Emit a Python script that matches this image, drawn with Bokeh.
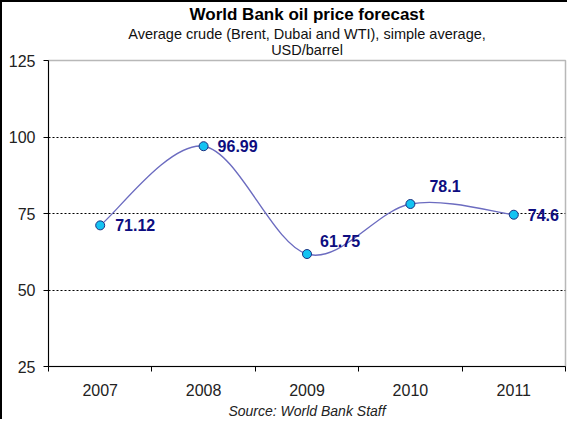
from bokeh.plotting import figure
from bokeh.models import Range1d, FixedTicker, Title, ColumnDataSource
from bokeh.embed import file_html
from bokeh.resources import INLINE
from bokeh.core.properties import value

years = ["2007", "2008", "2009", "2010", "2011"]
prices = [71.12, 96.99, 61.75, 78.1, 74.6]
price_labels = ["71.12", "96.99", "61.75", "78.1", "74.6"]
y_ticks = [25, 50, 75, 100, 125]

FONT = "Liberation Sans"

xs = [i + 0.5 for i in range(len(years))]

p = figure(width=567, height=419, output_backend="svg", toolbar_location=None,
           title=None, x_range=Range1d(0, 5), y_range=Range1d(25, 125),
           min_border_left=46, min_border_right=4, min_border_top=10, min_border_bottom=10)
p.styles = {"border-left": "2px solid black", "border-top": "2px solid black"}
p.background_fill_color = "white"
p.border_fill_color = "white"
p.outline_line_color = "#b8b8b8"
p.outline_line_width = 1.5

# x axis: labels at centres, ticks between categories
p.xaxis.ticker = FixedTicker(ticks=xs, minor_ticks=list(range(len(years) + 1)))
p.xaxis.major_label_overrides = {x: y for x, y in zip(xs, years)}
p.xaxis.major_tick_line_color = None
p.xaxis.minor_tick_in = 0
p.xaxis.minor_tick_out = 5
p.xaxis.minor_tick_line_color = "black"
p.xaxis.axis_line_color = "black"
p.xaxis.major_label_text_font = FONT
p.xaxis.major_label_text_font_size = "16px"
p.xaxis.major_label_text_color = "#222222"
p.xaxis.major_label_standoff = 11

p.yaxis.ticker = FixedTicker(ticks=y_ticks)
p.yaxis.major_tick_in = 0
p.yaxis.major_tick_out = 5
p.yaxis.major_tick_line_color = "black"
p.yaxis.minor_tick_line_color = None
p.yaxis.axis_line_color = "black"
p.yaxis.major_label_text_font = FONT
p.yaxis.major_label_text_font_size = "16px"
p.yaxis.major_label_text_color = "#222222"
p.yaxis.major_label_standoff = 8

p.xgrid.grid_line_color = None
p.ygrid.ticker = FixedTicker(ticks=y_ticks[1:-1])
p.ygrid.grid_line_color = "black"
p.ygrid.grid_line_dash = "2 2"
p.ygrid.grid_line_width = 1

# smooth line (Catmull-Rom style bezier segments through the data points)
n = len(xs)
x0, y0, x1, y1, cx0, cy0, cx1, cy1 = [], [], [], [], [], [], [], []
for i in range(n - 1):
    pa = (xs[max(i - 1, 0)], prices[max(i - 1, 0)])
    pb = (xs[i], prices[i])
    pc = (xs[i + 1], prices[i + 1])
    pd = (xs[min(i + 2, n - 1)], prices[min(i + 2, n - 1)])
    x0.append(pb[0]); y0.append(pb[1]); x1.append(pc[0]); y1.append(pc[1])
    cx0.append(pb[0] + (pc[0] - pa[0]) / 6); cy0.append(pb[1] + (pc[1] - pa[1]) / 6)
    cx1.append(pc[0] - (pd[0] - pb[0]) / 6); cy1.append(pc[1] - (pd[1] - pb[1]) / 6)
p.bezier(x0=x0, y0=y0, x1=x1, y1=y1, cx0=cx0, cy0=cy0, cx1=cx1, cy1=cy1,
         line_color="#6c6cc0", line_width=1.4)

p.scatter(xs, prices, size=9, fill_color="#14c3f2", line_color="#1c3080", line_width=1)

src = ColumnDataSource(dict(x=xs, y=prices, t=price_labels,
                            xo=[15, 14, 13, 19, 14], yo=[0, 0, -13, -18, 0]))
p.text(x="x", y="y", text="t", x_offset="xo", y_offset="yo", source=src,
       text_font=value(FONT), text_font_style="bold", text_font_size="16px",
       text_color="#0d0d80", text_baseline="middle", text_align="left")

# titles stacked above the frame (first added is nearest the frame)
p.add_layout(Title(text="USD/barrel", align="center", vertical_align="top", text_font=FONT,
                   text_font_size="14.5px", text_font_style="normal",
                   text_color="#111111", standoff=1, offset=-6), "above")
p.add_layout(Title(text="Average crude (Brent, Dubai and WTI), simple average,", align="center",
                   text_font=FONT, text_font_size="14.5px", text_font_style="normal",
                   text_color="#111111", standoff=0, offset=-6), "above")
p.add_layout(Title(text="World Bank oil price forecast", align="center", text_font=FONT,
                   text_font_size="17px", text_font_style="bold",
                   text_color="black", standoff=0, offset=-3), "above")
p.add_layout(Title(text="Source: World Bank Staff", align="center", text_font=FONT,
                   text_font_size="14px", text_font_style="italic",
                   text_color="#222222", standoff=5, offset=-7), "below")

open("out.html", "w").write(file_html(p, INLINE))
